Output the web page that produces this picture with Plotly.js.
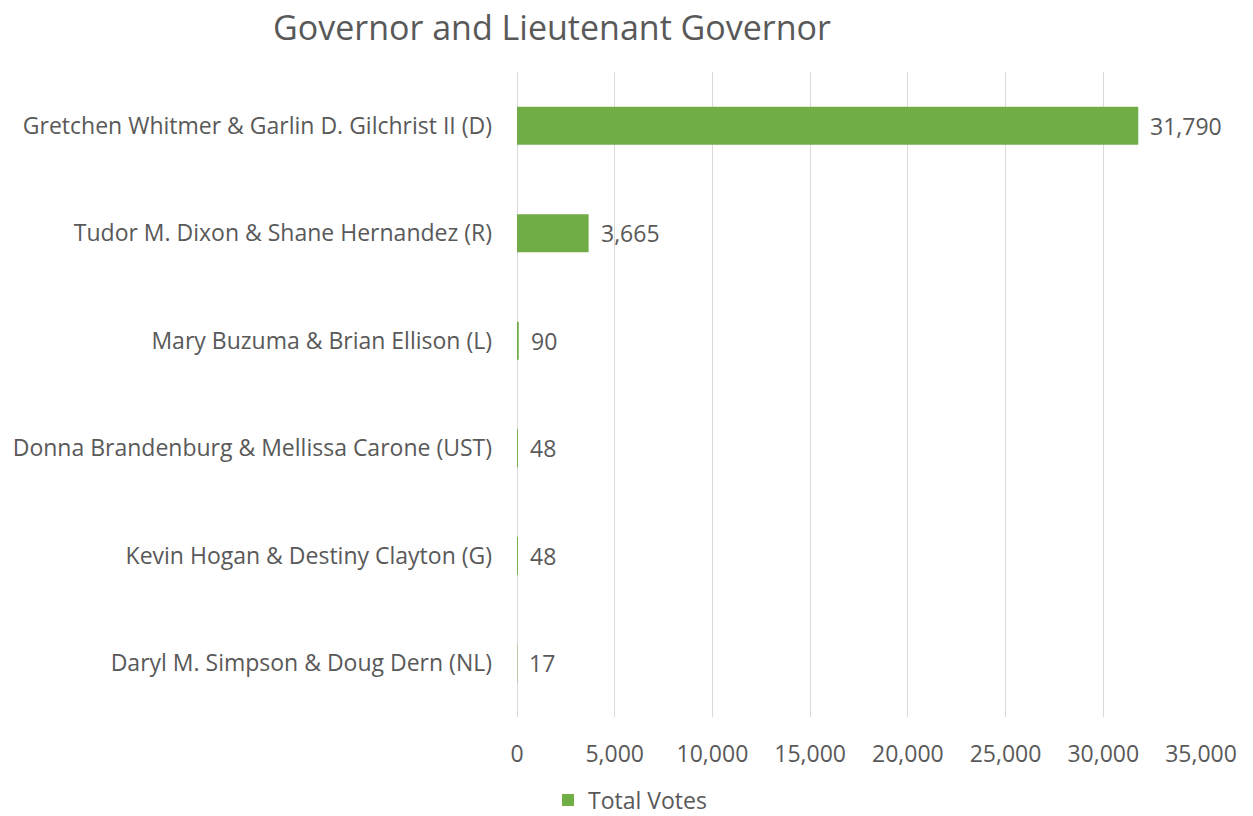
<!DOCTYPE html>
<html>
<head>
<meta charset="utf-8">
<script src="https://cdn.plot.ly/plotly-3.0.1.min.js"></script>
<style>html,body{margin:0;padding:0;background:#fff;}#chart{width:1253px;height:816px;}</style>
</head>
<body>
<div id="chart"></div>
<script>
const candidates = [
  "Gretchen Whitmer & Garlin D. Gilchrist II (D)",
  "Tudor M. Dixon & Shane Hernandez (R)",
  "Mary Buzuma & Brian Ellison (L)",
  "Donna Brandenburg & Mellissa Carone (UST)",
  "Kevin Hogan & Destiny Clayton (G)",
  "Daryl M. Simpson & Doug Dern (NL)"
];
const totalVotes = [31790, 3665, 90, 48, 48, 17];
const xTickVals = [0, 5000, 10000, 15000, 20000, 25000, 30000, 35000];
const xTickText = ["0", "5,000", "10,000", "15,000", "20,000", "25,000", "30,000", "35,000"];

const textColor = "#595959";
const fontFamily = "'Open Sans', 'Noto Sans', sans-serif";
const labelSize = 23;

const trace = {
  type: "bar",
  orientation: "h",
  name: "Total Votes",
  x: totalVotes,
  y: candidates,
  marker: { color: "#70AD47" },
  hoverinfo: "x+y"
};

const annotations = candidates.map((c, i) => ({
  x: totalVotes[i],
  y: c,
  xref: "x",
  yref: "y",
  text: totalVotes[i].toLocaleString("en-US"),
  showarrow: false,
  xanchor: "left",
  yanchor: "middle",
  xshift: 10,
  font: { family: fontFamily, size: labelSize, color: textColor }
}));

const layout = {
  width: 1253,
  height: 816,
  paper_bgcolor: "#ffffff",
  plot_bgcolor: "#ffffff",
  margin: { l: 517, r: 52, t: 72, b: 99 },
  font: { family: fontFamily, size: labelSize, color: textColor },
  title: {
    text: "Governor and Lieutenant Governor",
    font: { family: fontFamily, size: 34, color: textColor },
    xref: "container",
    yref: "container",
    x: 552 / 1253,
    xanchor: "center",
    y: 1 - 28 / 816,
    yanchor: "middle"
  },
  bargap: 0.647,
  xaxis: {
    range: [0, 35000],
    tickvals: xTickVals,
    ticktext: xTickText,
    showgrid: true,
    gridcolor: "#d9d9d9",
    gridwidth: 1,
    zeroline: true,
    zerolinecolor: "#d9d9d9",
    zerolinewidth: 1,
    showline: false,
    ticks: "",
    ticklabelstandoff: 21,
    tickfont: { family: fontFamily, size: labelSize, color: textColor },
    fixedrange: true
  },
  yaxis: {
    type: "category",
    autorange: "reversed",
    showgrid: false,
    zeroline: false,
    showline: false,
    ticks: "",
    ticklabelstandoff: 24,
    tickfont: { family: fontFamily, size: labelSize, color: textColor },
    fixedrange: true
  },
  showlegend: true,
  legend: {
    orientation: "h",
    xref: "container",
    yref: "container",
    x: 548 / 1253,
    xanchor: "left",
    y: (816 - 800) / 816,
    yanchor: "middle",
    bgcolor: "rgba(0,0,0,0)",
    borderwidth: 0,
    font: { family: fontFamily, size: labelSize, color: textColor },
    itemwidth: 30
  },
  annotations: annotations
};

Plotly.newPlot("chart", [trace], layout, { displayModeBar: false, staticPlot: true });
</script>
</body>
</html>
